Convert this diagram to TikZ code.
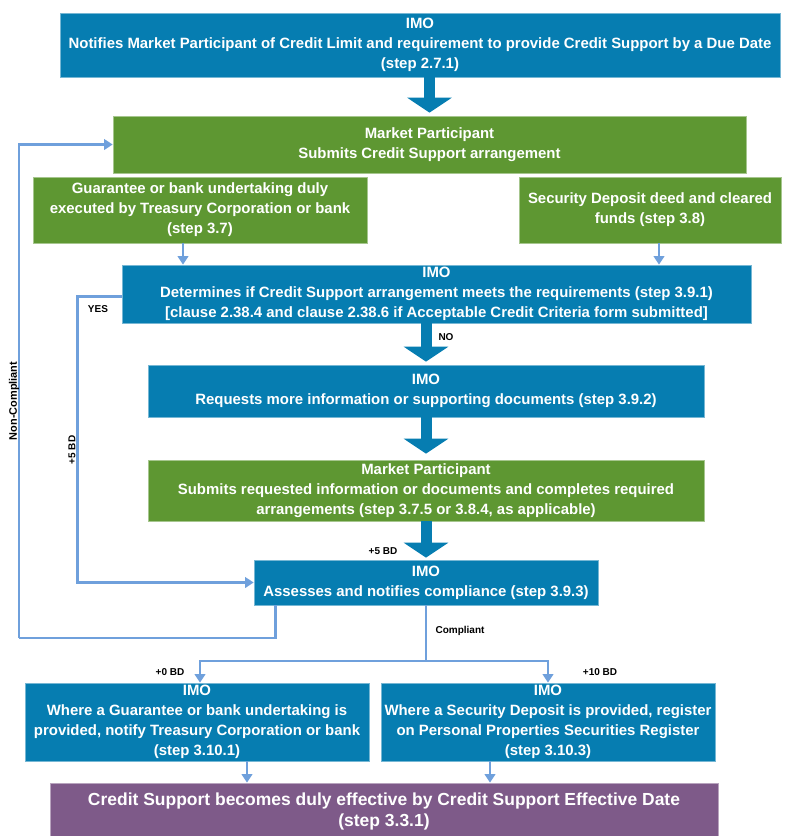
\documentclass[tikz,border=0pt]{standalone}
\usepackage{fontspec}
\setmainfont{Liberation Sans}
\usepackage{tikz}
\usetikzlibrary{arrows.meta, positioning, calc}
\definecolor{ImoBlue}{HTML}{067DB1}
\definecolor{ParticipantGreen}{HTML}{5E9732}
\definecolor{OutcomePurple}{HTML}{7E5A89}
\definecolor{LinkBlue}{HTML}{6FA0DC}
\tikzset{
  imobox/.style={rectangle, draw=ImoBlue!55!white, line width=0.5pt, fill=ImoBlue, text=white, inner sep=0pt, align=center, font=\bfseries\fontsize{11.2}{15}\selectfont},
  mpbox/.style={imobox, draw=ParticipantGreen!55!white, fill=ParticipantGreen},
  outcomebox/.style={imobox, draw=OutcomePurple!55!white, fill=OutcomePurple, font=\bfseries\fontsize{13.1}{15.75}\selectfont},
  bigarrow/.style={ImoBlue, line width=8.25pt, -{Triangle[width=33pt, length=11.25pt]}},
  flowarrow/.style={LinkBlue, line width=1.9pt, -{Triangle[width=8pt, length=6.5pt]}},
  flowline/.style={LinkBlue, line width=1.9pt},
  steplabel/.style={font=\bfseries\fontsize{7.5}{8}\selectfont, inner sep=0pt}
}
\begin{document}
\begin{tikzpicture}[x=0.75pt, y=-0.75pt]
  \useasboundingbox (0,0) rectangle (792,836);

  % boxes
  \node[imobox, minimum width=540pt, minimum height=48pt] (notify) at (420,45) {IMO\\Notifies Market Participant of Credit Limit and requirement to provide Credit Support by a Due Date\\(step 2.7.1)};
  \node[mpbox, minimum width=474.75pt, minimum height=42.75pt] (submit) at (429.5,144.5) {Market Participant\\Submits Credit Support arrangement};
  \node[mpbox, minimum width=250.5pt, minimum height=49.5pt] (guarantee) at (200,210) {Guarantee or bank undertaking duly\\executed by Treasury Corporation or bank\\(step 3.7)};
  \node[mpbox, minimum width=196.5pt, minimum height=49.5pt] (deposit) at (650,210) {Security Deposit deed and cleared\\funds (step 3.8)};
  \node[imobox, minimum width=471.75pt, minimum height=43.5pt] (determine) at (436.5,294) {IMO\\Determines if Credit Support arrangement meets the requirements (step 3.9.1)\\{[}clause 2.38.4 and clause 2.38.6 if Acceptable Credit Criteria form submitted{]}};
  \node[imobox, minimum width=417pt, minimum height=39pt] (request) at (426,391) {IMO\\Requests more information or supporting documents (step 3.9.2)};
  \node[mpbox, minimum width=417pt, minimum height=45.75pt] (resubmit) at (426,490.5) {Market Participant\\Submits requested information or documents and completes required\\arrangements (step 3.7.5 or 3.8.4, as applicable)};
  \node[imobox, minimum width=258pt, minimum height=33.75pt] (assess) at (426,582.5) {IMO\\Assesses and notifies compliance (step 3.9.3)};
  \node[imobox, minimum width=258pt, minimum height=58.5pt] (notifybank) at (197,722) {IMO\\Where a Guarantee or bank undertaking is\\provided, notify Treasury Corporation or bank\\(step 3.10.1)};
  \node[imobox, minimum width=250.5pt, minimum height=58.5pt] (register) at (548,722) {IMO\\Where a Security Deposit is provided, register\\on Personal Properties Securities Register\\(step 3.10.3)};
  \node[outcomebox, minimum width=501pt, minimum height=42.75pt] (effective) at (384,811.5) {Credit Support becomes duly effective by Credit Support Effective Date\\(step 3.3.1)};

  % main flow
  \draw[bigarrow] (submit.north |- notify.south) -- ([yshift=2.25pt]submit.north);
  \draw[bigarrow] (request.north |- determine.south) -- ([yshift=2.25pt]request.north);
  \draw[bigarrow] (request.south) -- ([yshift=4.5pt]resubmit.north);
  \draw[bigarrow] (resubmit.south) -- ([yshift=1.5pt]assess.north);

  \draw[flowarrow] ([xshift=-12.75pt]guarantee.south) -- ([xshift=-12.75pt]guarantee.south |- determine.north);
  \draw[flowarrow] ([xshift=6.75pt]deposit.south) -- ([xshift=6.75pt]deposit.south |- determine.north);

  % yes branch
  \draw[flowarrow] ([yshift=-2pt]determine.west) -- ++(-44,0) |- (assess.west);

  % non-compliant loop
  \coordinate (loop) at (19,638);
  \draw[flowline] ([xshift=16.5pt]assess.south west) |- (loop);
  \draw[flowarrow] (loop) |- (submit.west);

  % compliant split
  \coordinate (split) at (426,661);
  \draw[flowline] (assess.south) -- (split);
  \draw[flowarrow] (split) -| ([xshift=2.25pt]notifybank.north);
  \draw[flowarrow] (split) -| (register.north);

  \draw[flowarrow] ([xshift=37.5pt]notifybank.south) -- ([xshift=37.5pt]notifybank.south |- effective.north);
  \draw[flowarrow] ([xshift=-43.5pt]register.south) -- ([xshift=-43.5pt]register.south |- effective.north);

  % labels
  \node[steplabel] (yes) at (98,309) {YES};
  \node[steplabel] (no) at (446,337) {NO};
  \node[steplabel, rotate=90] (yesdays) at (72,450) {+5 BD};
  \node[steplabel] (assessdays) at (383,551) {+5 BD};
  \node[steplabel, rotate=90, font=\bfseries\fontsize{8.2}{9}\selectfont] (noncompliant) at (14,401) {Non-Compliant};
  \node[steplabel] (compliant) at (460,631) {Compliant};
  \node[steplabel] (bankdays) at (170,672) {+0 BD};
  \node[steplabel] (registerdays) at (600,672) {+10 BD};
\end{tikzpicture}
\end{document}
